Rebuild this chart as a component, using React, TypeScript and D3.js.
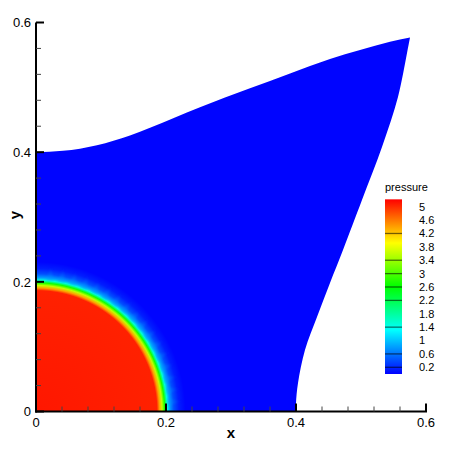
import React from 'react';
import * as d3 from 'd3';

// ---- axis ticks ----
const xTickValues = [0, 0.2, 0.4, 0.6];
const xTickLabels = ['0', '0.2', '0.4', '0.6'];
const yTickValues = [0, 0.2, 0.4, 0.6];
const yTickLabels = ['0', '0.2', '0.4', '0.6'];
const minorStep = 0.04;

// ---- computational domain boundary (data units) ----
const topBoundaryX = [0, 0.0415, 0.0938, 0.1446, 0.1754, 0.2523, 0.3292, 0.3908, 0.4523, 0.4985, 0.5446, 0.5754];
const topBoundaryY = [0.3995, 0.402, 0.4108, 0.4258, 0.4375, 0.4692, 0.4985, 0.5214, 0.5437, 0.5575, 0.5703, 0.5769];
const rightBoundaryX = [0.5754, 0.5708, 0.5569, 0.5323, 0.5015, 0.4723, 0.4523, 0.4323, 0.4138, 0.4031, 0.4, 0.4];
const rightBoundaryY = [0.5769, 0.553, 0.4851, 0.408, 0.3262, 0.2491, 0.1982, 0.1458, 0.0949, 0.044, 0.0131, 0];

// ---- radial pressure profile ----
const radius = [0, 0.186, 0.19, 0.194, 0.198, 0.202, 0.206, 0.212, 0.22, 0.23];
const pressure = [5.1, 5.05, 4.4, 3.6, 2.7, 1.5, 0.8, 0.4, 0.15, 0.02];

// ---- mesh-imprint streaks just outside the front (angles in degrees) ----
const streakAngles = [4, 9, 14, 19, 24, 29, 34, 39, 44, 49, 54, 59, 64, 69, 74, 79, 84];
const streakInner = 0.203;
const streakOuter = 0.224;
const streakPressure = [0.9, 0.05];

// ---- legend ----
const legendTitle = 'pressure';
const legendLabels = [5, 4.6, 4.2, 3.8, 3.4, 3, 2.6, 2.2, 1.8, 1.4, 1, 0.6, 0.2];
const legendLines = [4.2, 3.4, 3.0, 2.6, 2.2, 1.4, 0.6, 0.2];
const colorStops = [0, 1.305, 2.61, 3.915, 5.22];
const colorRange = ['#0000ff', '#00ffff', '#00ff00', '#ffff00', '#ff0000'];

const W = 449;
const H = 449;
const FONT = '"Liberation Sans", Arial, sans-serif';

export default function App() {
  const x = d3.scaleLinear().domain([0, 0.6]).range([36, 426]);
  const y = d3.scaleLinear().domain([0, 0.6]).range([411.5, 22.5]);
  const color = d3.scaleLinear<string>().domain(colorStops).range(colorRange);
  const legendY = d3.scaleLinear().domain([0.2, 5]).range([367.3, 206.7]);

  const topLine = d3
    .line<[number, number]>()
    .x((d) => x(d[0]))
    .y((d) => y(d[1]))
    .curve(d3.curveMonotoneX);
  const rightLine = d3
    .line<[number, number]>()
    .x((d) => x(d[0]))
    .y((d) => y(d[1]))
    .curve(d3.curveCatmullRom.alpha(0.5));

  const topPts = topBoundaryX.map((v, i) => [v, topBoundaryY[i]] as [number, number]);
  const rightPts = rightBoundaryX.map((v, i) => [v, rightBoundaryY[i]] as [number, number]);
  const domainPath =
    `M${x(0)},${y(0)}` +
    (topLine(topPts) || '').replace(/^M/, 'L') +
    (rightLine(rightPts) || '').replace(/^M/, 'L') +
    'Z';

  const rMax = radius[radius.length - 1];
  const rPx = x(rMax) - x(0);
  const pxPerUnit = x(1) - x(0);

  const streakPath = streakAngles
    .map((a) => {
      const t = (a * Math.PI) / 180;
      const dt = (1.6 * Math.PI) / 180;
      const p = (r: number, th: number) => `${x(0) + r * pxPerUnit * Math.cos(th)},${y(0) - r * pxPerUnit * Math.sin(th)}`;
      return `M${p(streakInner, t - dt)}L${p(streakOuter, t)}L${p(streakInner, t + dt)}Z`;
    })
    .join('');

  const minorTicks = d3.range(0, 16).map((i) => i * minorStep).filter((v, i) => i % 5 !== 0);

  const barX = 385;
  const barW = 17;
  const barTop = legendY(colorStops[colorStops.length - 1]);
  const barBottom = legendY(colorStops[0]);

  return (
    <svg
      width={W}
      height={H}
      style={{ position: 'absolute', left: 0, top: 0, background: '#fff' }}
      fontFamily={FONT}
    >
      <defs>
        <radialGradient id="pfield" gradientUnits="userSpaceOnUse" cx={x(0)} cy={y(0)} r={rPx} fx={x(0)} fy={y(0)}>
          {radius.map((r, i) => (
            <stop key={i} offset={r / rMax} stopColor={color(pressure[i])} />
          ))}
        </radialGradient>
        <radialGradient id="streakGrad" gradientUnits="userSpaceOnUse" cx={x(0)} cy={y(0)} r={streakOuter * pxPerUnit} fx={x(0)} fy={y(0)}>
          <stop offset={streakInner / streakOuter} stopColor={color(streakPressure[0])} />
          <stop offset={1} stopColor={color(streakPressure[1])} />
        </radialGradient>
        <filter id="soft" x="-20%" y="-20%" width="140%" height="140%">
          <feGaussianBlur stdDeviation={0.8} />
        </filter>
        <clipPath id="domClip">
          <path d={domainPath} />
        </clipPath>
        <linearGradient id="legendGrad" gradientUnits="userSpaceOnUse" x1={0} x2={0} y1={barBottom} y2={barTop}>
          {colorStops.map((s, i) => (
            <stop key={i} offset={(s - colorStops[0]) / (colorStops[colorStops.length - 1] - colorStops[0])} stopColor={colorRange[i]} />
          ))}
        </linearGradient>
      </defs>

      {/* flooded field */}
      <path d={domainPath} fill="url(#pfield)" />
      <g clipPath="url(#domClip)">
        <path d={streakPath} fill="url(#streakGrad)" opacity={0.6} filter="url(#soft)" />
      </g>

      {/* axes */}
      <g stroke="#000">
        <line x1={x(0)} x2={x(0)} y1={y(0.6)} y2={y(0) + 1} strokeWidth={2} />
        <line x1={x(0) - 1} x2={x(0.6) + 1} y1={y(0)} y2={y(0)} strokeWidth={2} />
        {xTickValues.map((v) => (
          <line key={'xm' + v} x1={x(v)} x2={x(v)} y1={y(0)} y2={y(0) - 8} strokeWidth={2} />
        ))}
        {yTickValues.map((v) => (
          <line key={'ym' + v} x1={x(0)} x2={x(0) + 8} y1={y(v)} y2={y(v)} strokeWidth={2} />
        ))}
        {minorTicks.map((v) => (
          <line key={'xn' + v} x1={x(v)} x2={x(v)} y1={y(0)} y2={y(0) - 5} strokeWidth={1} stroke="#444" />
        ))}
        {minorTicks.map((v) => (
          <line key={'yn' + v} x1={x(0)} x2={x(0) + 5} y1={y(v)} y2={y(v)} strokeWidth={1} stroke="#444" />
        ))}
      </g>

      <g fontSize={13} fill="#000">
        {xTickValues.map((v, i) => (
          <text key={'xl' + v} x={x(v)} y={426.7} textAnchor="middle">
            {xTickLabels[i]}
          </text>
        ))}
        {yTickValues.map((v, i) => (
          <text key={'yl' + v} x={31} y={y(v)} dy="0.36em" textAnchor="end">
            {yTickLabels[i]}
          </text>
        ))}
      </g>

      <text x={231} y={437.5} textAnchor="middle" fontSize={15} fontWeight="bold">
        x
      </text>
      <text transform="translate(20,215) rotate(-90)" textAnchor="middle" fontSize={15} fontWeight="bold">
        y
      </text>

      {/* legend */}
      <text x={barX} y={190.5} fontSize={11}>
        {legendTitle}
      </text>
      <rect x={barX} y={barTop} width={barW} height={barBottom - barTop} fill="url(#legendGrad)" />
      {legendLines.map((v) => (
        <line
          key={'ll' + v}
          x1={barX}
          x2={barX + barW}
          y1={legendY(v)}
          y2={legendY(v)}
          stroke="#000"
          strokeOpacity={0.55}
          strokeWidth={1.3}
        />
      ))}
      <g fontSize={11}>
        {legendLabels.map((v) => (
          <text key={'lt' + v} x={419} y={legendY(v)} dy="0.36em">
            {String(v)}
          </text>
        ))}
      </g>
    </svg>
  );
}
